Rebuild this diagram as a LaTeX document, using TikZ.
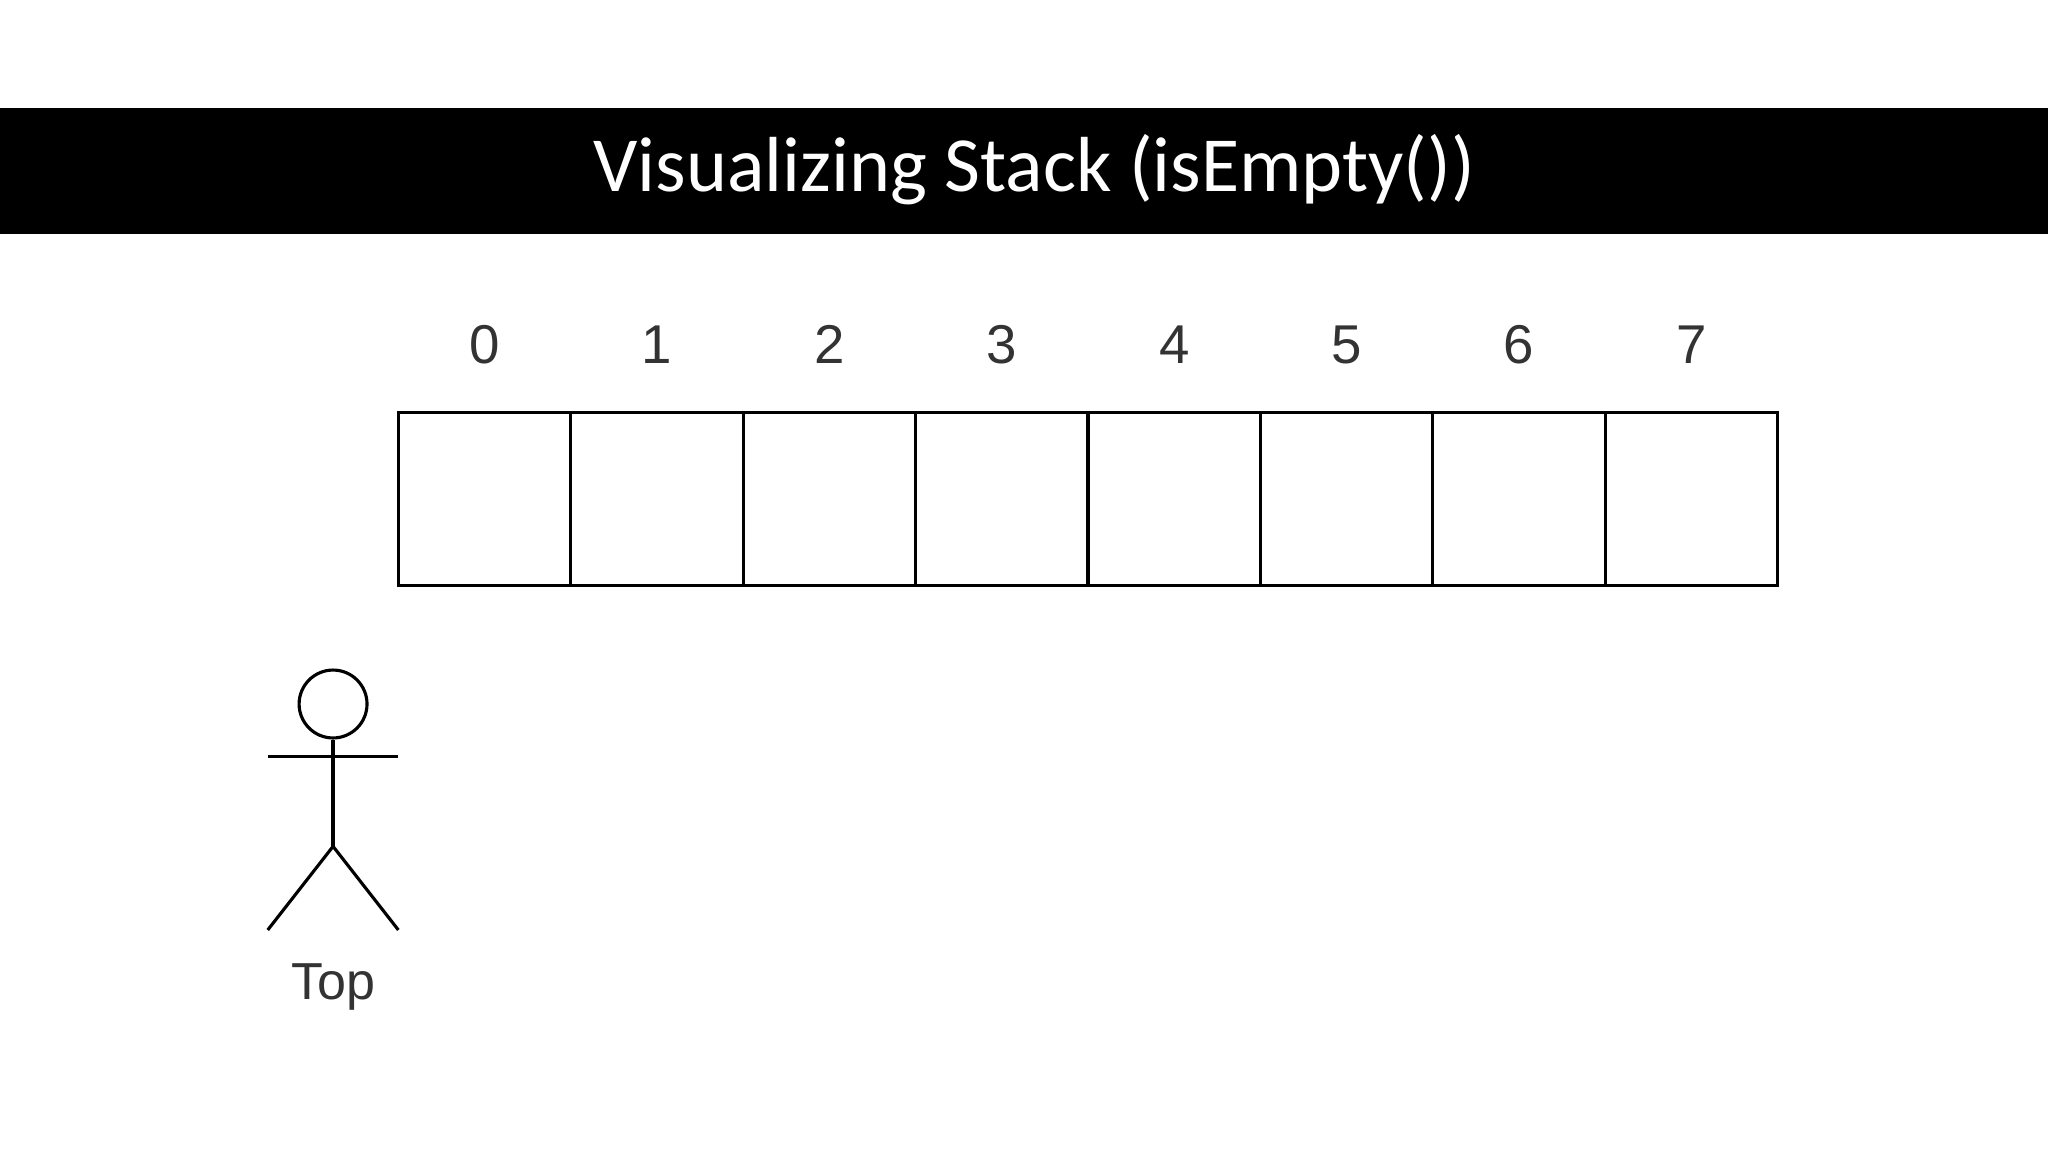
\documentclass[tikz,border=0pt]{standalone}
\usepackage{fontspec}
\setmainfont{Carlito}
\newfontfamily\lblfont{Liberation Sans}
\begin{document}
\begin{tikzpicture}[x=0.5bp,y=-0.5bp,
  cell/.style={draw=black,line width=1.2bp,minimum width=66bp,minimum height=66bp,inner sep=0,outer sep=0},
  idx/.style={font=\lblfont\fontsize{21}{24}\selectfont,text=black!80},
  fig/.style={line width=1.2bp,draw=black}]
\useasboundingbox (0,0) rectangle (1568,882);
\fill[black] (0,83) rectangle (1568,179);
\node[text=white,font=\fontsize{30}{34}\selectfont] (title) at (792,130) {Visualizing Stack (isEmpty())};
\foreach \i in {0,...,7}{
  \node[cell] (c\i) at ({371+132*\i},382) {};
  \node[idx] (l\i) at ({371+132*\i},264) {\i};
}
\node[fig,circle,minimum size=26bp,inner sep=0] (head) at (255,539) {};
\coordinate (neck) at (255,565);
\coordinate (hip) at (255,648);
\coordinate (la) at (205,579);
\coordinate (ra) at (305,579);
\coordinate (ll) at (205,712);
\coordinate (rl) at (305,712);
\draw[fig] (head.south) -- (hip);
\draw[fig] (la) -- (ra);
\draw[fig] (ll) -- (hip) -- (rl);
\node[font=\lblfont\fontsize{20}{24}\selectfont,text=black!80] (top) at (255,756) {Top};
\end{tikzpicture}
\end{document}
